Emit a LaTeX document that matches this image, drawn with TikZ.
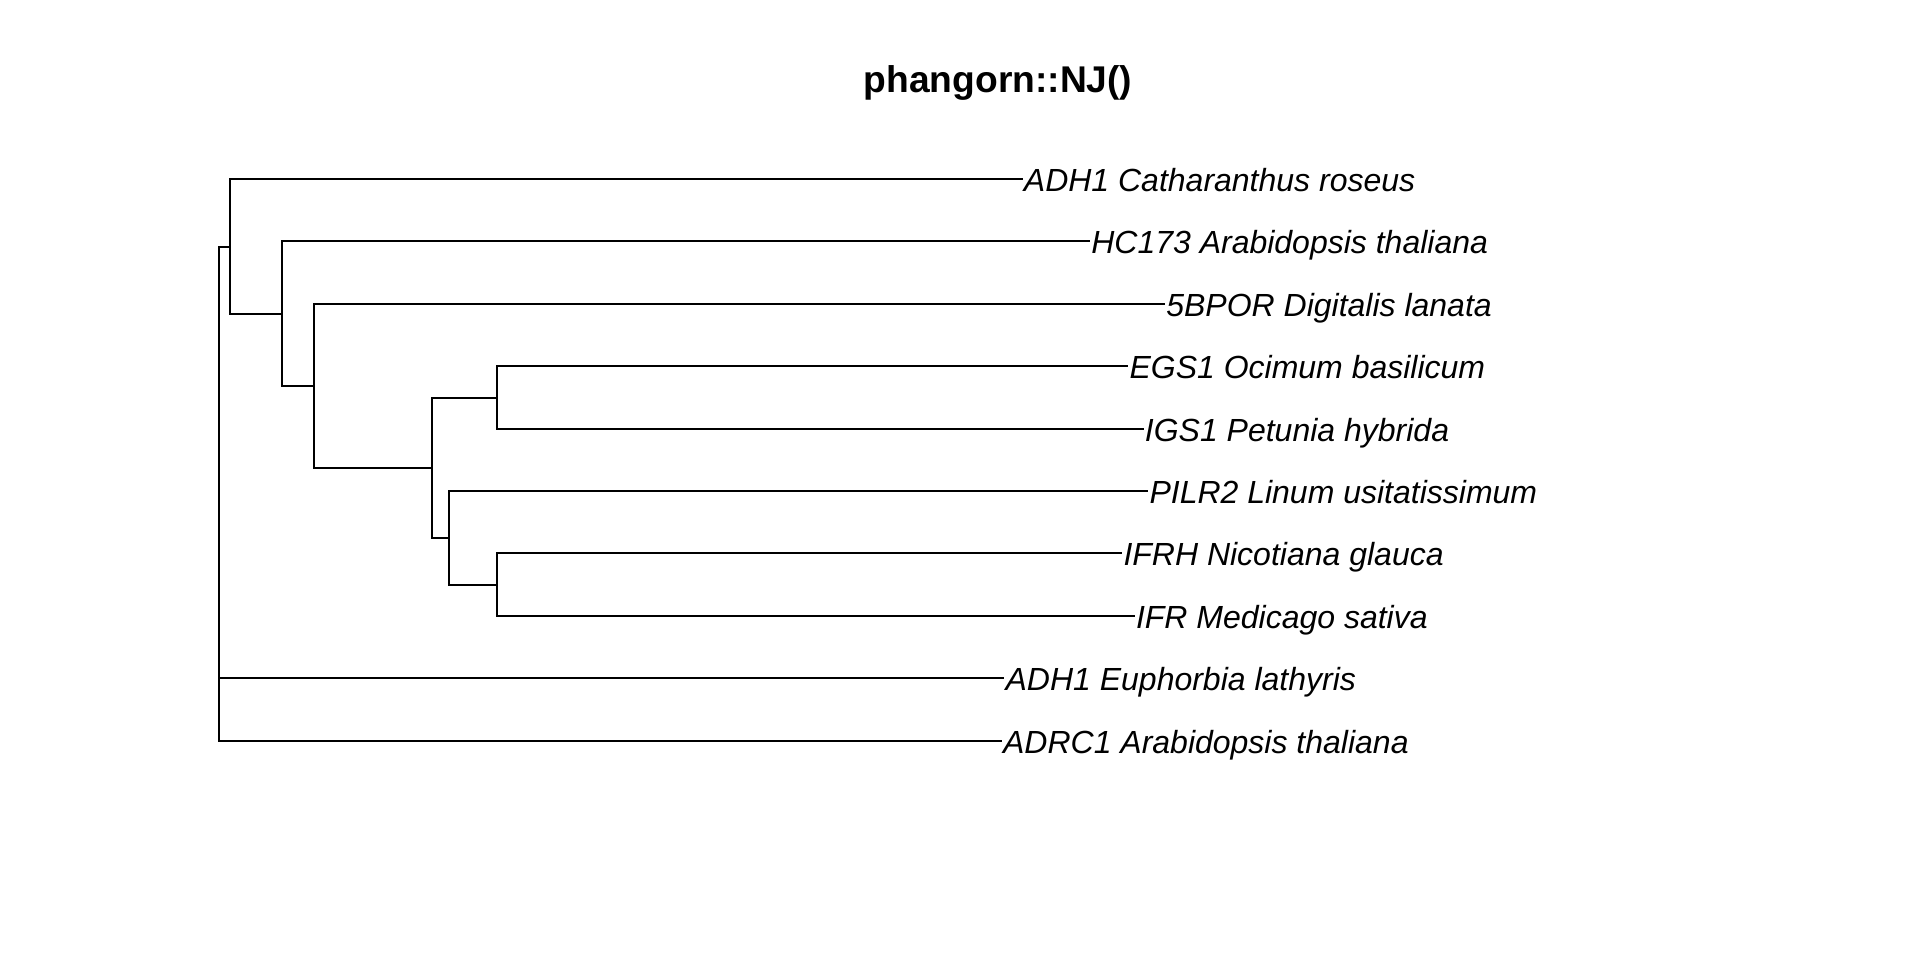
\documentclass[tikz,border=0pt]{standalone}
\usepackage{fontspec}
\setmainfont{Liberation Sans}
\begin{document}
\begin{tikzpicture}[x=0.5pt,y=-0.5pt,
  branch/.style={line width=1pt,line cap=rect},
  tiplabel/.style={anchor=base west,inner sep=0pt,font=\fontsize{16}{19}\selectfont\itshape},
  titletext/.style={anchor=base,inner sep=0pt,font=\fontsize{18.6}{22}\selectfont\bfseries}]
\useasboundingbox (0,0) rectangle (1920,960);
\node[titletext] (title) at (998,92.5) {phangorn::NJ()};
% internal nodes (x = depth, y = mean of children)
\coordinate (root) at (219,494);
\coordinate (A) at (230,247);
\coordinate (B) at (282,314);
\coordinate (C) at (314,386);
\coordinate (D) at (432,468);
\coordinate (E) at (497,398);
\coordinate (F) at (449,538);
\coordinate (G) at (497,585);
% tips
\coordinate (t1) at (1021.5,179);
\coordinate (t2) at (1088.9,241);
\coordinate (t3) at (1163.9,304);
\coordinate (t4) at (1127.1,366);
\coordinate (t5) at (1142.5,429);
\coordinate (t6) at (1147.1,491);
\coordinate (t7) at (1121.1,553);
\coordinate (t8) at (1133.6,616);
\coordinate (t9) at (1003.2,678);
\coordinate (t10) at (1000.7,741);
% labels, set just right of each tip
\node[tiplabel] (l1) at (1023.5,191.5) {ADH1 Catharanthus roseus};
\node[tiplabel] (l2) at (1090.9,253.5) {HC173 Arabidopsis thaliana};
\node[tiplabel] (l3) at (1165.9,316.5) {5BPOR Digitalis lanata};
\node[tiplabel] (l4) at (1129.1,378.5) {EGS1 Ocimum basilicum};
\node[tiplabel] (l5) at (1144.5,441.5) {IGS1 Petunia hybrida};
\node[tiplabel] (l6) at (1149.1,503.5) {PILR2 Linum usitatissimum};
\node[tiplabel] (l7) at (1123.1,565.5) {IFRH Nicotiana glauca};
\node[tiplabel] (l8) at (1135.6,628.5) {IFR Medicago sativa};
\node[tiplabel] (l9) at (1005.2,690.5) {ADH1 Euphorbia lathyris};
\node[tiplabel] (l10) at (1002.7,753.5) {ADRC1 Arabidopsis thaliana};
% branches
\draw[branch] (root) |- (A);
\draw[branch] (root) |- (t9);
\draw[branch] (root) |- (t10);
\draw[branch] (A) |- (t1);
\draw[branch] (A) |- (B);
\draw[branch] (B) |- (t2);
\draw[branch] (B) |- (C);
\draw[branch] (C) |- (t3);
\draw[branch] (C) |- (D);
\draw[branch] (D) |- (E);
\draw[branch] (D) |- (F);
\draw[branch] (E) |- (t4);
\draw[branch] (E) |- (t5);
\draw[branch] (F) |- (t6);
\draw[branch] (F) |- (G);
\draw[branch] (G) |- (t7);
\draw[branch] (G) |- (t8);
\end{tikzpicture}
\end{document}
